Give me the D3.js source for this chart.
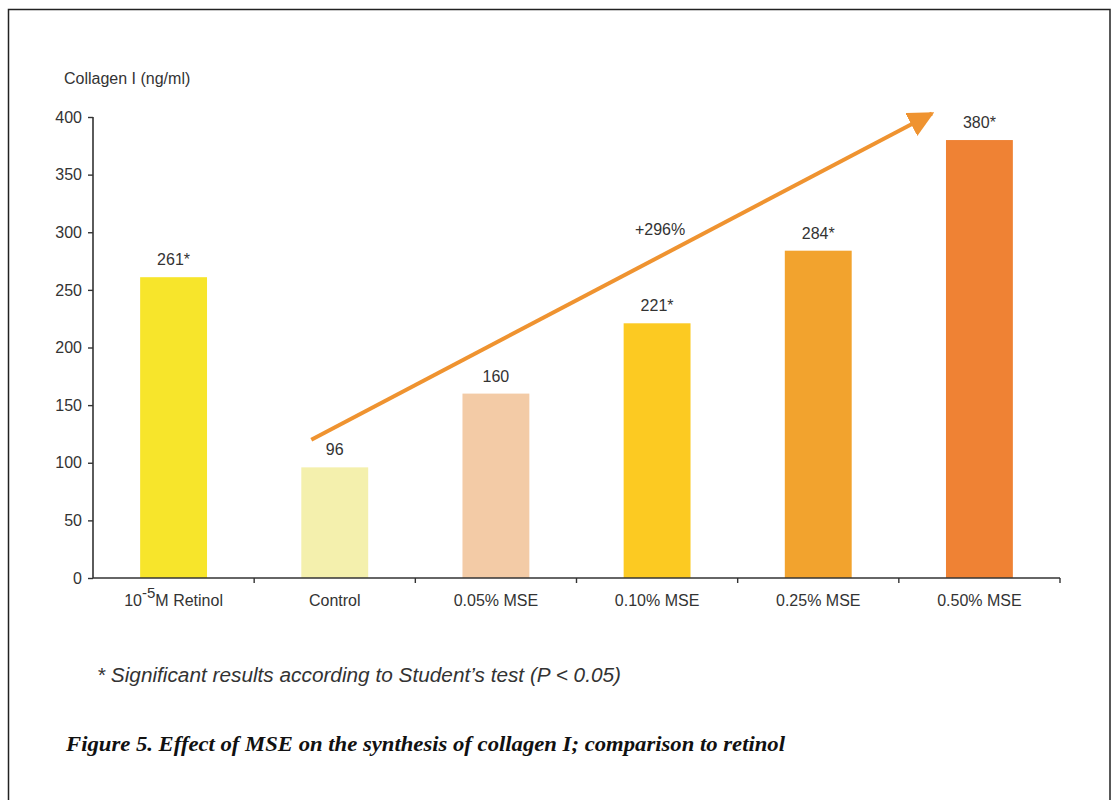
<!DOCTYPE html>
<html>
<head>
<meta charset="utf-8">
<script src="https://cdn.jsdelivr.net/npm/d3@7"></script>
<style>
  html, body { margin: 0; padding: 0; background: #fff; }
  svg { display: block; }
</style>
</head>
<body>
<svg id="chart" width="1113" height="800"></svg>
<script>
// Collagen I synthesis by treatment
const categories = ["10-5M Retinol", "Control", "0.05% MSE", "0.10% MSE", "0.25% MSE", "0.50% MSE"];
const values = [261, 96, 160, 221, 284, 380];
const significant = [true, false, false, true, true, true];
const barColors = ["#f7e52b", "#f4f0ad", "#f3cba6", "#fcca22", "#f2a32e", "#ef8234"];
const yTicks = [0, 50, 100, 150, 200, 250, 300, 350, 400];
// trend arrow: from the control level up past the highest dose
const trendStart = { cat: "Control", value: 120 };
const trendEnd = { cat: "0.50% MSE", value: 403 };
const trendLabel = "+296%";

(function () {
const svg = d3.select("#chart");
const font = "'Liberation Sans', Arial, Helvetica, sans-serif";
const ink = "#333";
const fs = 16;

// outer frame
svg.append("rect")
  .attr("x", 8.5).attr("y", 9.5)
  .attr("width", 1101.5).attr("height", 800)
  .attr("fill", "none").attr("stroke", "#222").attr("stroke-width", 1.5);

const plotLeft = 93, plotRight = 1060, plotTop = 117, plotBottom = 578;

const x = d3.scaleBand()
  .domain(categories)
  .range([plotLeft, plotRight])
  .paddingInner(0.585)
  .paddingOuter(0.2925);

const y = d3.scaleLinear().domain([0, 400]).range([plotBottom, plotTop]);

// bars
svg.append("g").selectAll("rect")
  .data(categories)
  .join("rect")
  .attr("x", d => x(d))
  .attr("y", (d, i) => y(values[i]))
  .attr("width", x.bandwidth())
  .attr("height", (d, i) => y(0) - y(values[i]))
  .attr("fill", (d, i) => barColors[i]);

// value labels
svg.append("g").selectAll("text")
  .data(categories)
  .join("text")
  .attr("x", d => x(d) + x.bandwidth() / 2)
  .attr("y", (d, i) => y(values[i]) - 12)
  .attr("text-anchor", "middle")
  .attr("font-family", font)
  .attr("font-size", fs)
  .attr("fill", ink)
  .text((d, i) => values[i] + (significant[i] ? "*" : ""));

// y axis
const yAxis = svg.append("g")
  .attr("transform", `translate(${plotLeft},0)`)
  .call(d3.axisLeft(y).tickValues(yTicks).tickSize(5).tickPadding(6));
yAxis.select(".domain").attr("stroke", ink).attr("stroke-width", 1.6)
  .attr("d", `M0,${plotTop}V${plotBottom}`);
yAxis.selectAll(".tick line").attr("stroke", ink).attr("stroke-width", 1.4);
yAxis.selectAll(".tick text")
  .attr("font-family", font).attr("font-size", fs).attr("fill", ink);

// x axis: baseline with ticks at the category boundaries
const gap = (x.step() - x.bandwidth()) / 2;
const bounds = categories.map(c => x(c) - gap).concat([x(categories[categories.length - 1]) + x.bandwidth() + gap]);
const xAxis = svg.append("g");
xAxis.append("line")
  .attr("x1", plotLeft).attr("x2", plotRight)
  .attr("y1", plotBottom).attr("y2", plotBottom)
  .attr("stroke", ink).attr("stroke-width", 1.6);
xAxis.selectAll("line.tick")
  .data(bounds.slice(1))
  .join("line")
  .attr("class", "tick")
  .attr("x1", d => d).attr("x2", d => d)
  .attr("y1", plotBottom).attr("y2", plotBottom + 5)
  .attr("stroke", ink).attr("stroke-width", 1.4);

const catLabels = xAxis.selectAll("text")
  .data(categories)
  .join("text")
  .attr("x", d => x(d) + x.bandwidth() / 2)
  .attr("y", plotBottom + 28)
  .attr("text-anchor", "middle")
  .attr("font-family", font)
  .attr("font-size", fs)
  .attr("fill", ink);
catLabels.each(function (d) {
  const t = d3.select(this);
  if (d.startsWith("10-5")) {
    t.append("tspan").text("10");
    t.append("tspan").attr("baseline-shift", "super").attr("font-size", 15).text("-5");
    t.append("tspan").text("M Retinol");
  } else {
    t.text(d);
  }
});

// axis title
svg.append("text")
  .attr("x", 64).attr("y", 84)
  .attr("font-family", font).attr("font-size", fs).attr("fill", ink)
  .text("Collagen I (ng/ml)");

// trend arrow
const arrowColor = "#ef9330";
svg.append("defs").append("marker")
  .attr("id", "head")
  .attr("viewBox", "0 0 10 10")
  .attr("refX", 9).attr("refY", 5)
  .attr("markerWidth", 6.5).attr("markerHeight", 6.5)
  .attr("markerUnits", "strokeWidth")
  .attr("orient", "auto")
  .append("path")
  .attr("d", "M0,0L10,5L0,10Z")
  .attr("fill", arrowColor);

const x0 = x(trendStart.cat) + 10, y0 = y(trendStart.value);
const x1 = x(trendEnd.cat) - 14, y1 = y(trendEnd.value);
svg.append("line")
  .attr("x1", x0).attr("y1", y0)
  .attr("x2", x1).attr("y2", y1)
  .attr("stroke", arrowColor).attr("stroke-width", 4)
  .attr("marker-end", "url(#head)");

svg.append("text")
  .attr("x", x("0.10% MSE") + x.bandwidth() / 2 + 3)
  .attr("y", y(298))
  .attr("text-anchor", "middle")
  .attr("font-family", font).attr("font-size", fs).attr("fill", ink)
  .text(trendLabel);

// footnote
svg.append("text")
  .attr("x", 97).attr("y", 682)
  .attr("font-family", font).attr("font-size", 20).attr("font-style", "italic")
  .attr("fill", ink)
  .attr("textLength", 524).attr("lengthAdjust", "spacingAndGlyphs")
  .text("* Significant results according to Student\u2019s test (P < 0.05)");

// caption
svg.append("text")
  .attr("x", 66).attr("y", 751)
  .attr("font-family", "'Liberation Serif', 'Times New Roman', serif")
  .attr("font-size", 20).attr("font-style", "italic").attr("font-weight", "bold")
  .attr("fill", "#111")
  .attr("textLength", 719).attr("lengthAdjust", "spacingAndGlyphs")
  .text("Figure 5. Effect of MSE on the synthesis of collagen I; comparison to retinol");
})();
</script>
</body>
</html>
